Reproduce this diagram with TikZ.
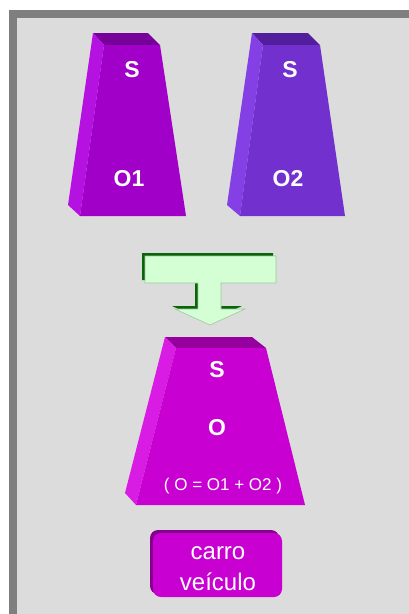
\documentclass[tikz,border=0pt]{standalone}
\usepackage{fontspec}
\setmainfont{Liberation Sans}

\definecolor{framegray}{HTML}{7F7F7F}
\definecolor{panelgray}{HTML}{DCDCDC}
\definecolor{redfront}{HTML}{A000C8}
\definecolor{redside}{HTML}{B512E2}
\definecolor{redtop}{HTML}{78009A}
\definecolor{bluefront}{HTML}{7230CF}
\definecolor{blueside}{HTML}{8440E4}
\definecolor{bluetop}{HTML}{521E9E}
\definecolor{mixfront}{HTML}{C800D2}
\definecolor{mixside}{HTML}{D81CE4}
\definecolor{mixtop}{HTML}{96009E}
\definecolor{tagedge}{HTML}{86008E}
\definecolor{arrowfill}{HTML}{D4FFD4}
\definecolor{arrowshade}{HTML}{0A640A}
\definecolor{arrowline}{HTML}{9CC89C}

\tikzset{
  letter/.style={text=white, font=\bfseries\fontsize{23}{26}\selectfont, inner sep=0pt},
  plain/.style={text=white, font=\fontsize{24}{28}\selectfont, inner sep=0pt},
  small/.style={text=white, font=\fontsize{17}{20}\selectfont, inner sep=0pt}
}

\begin{document}
\begin{tikzpicture}[x=1pt,y=-1pt]
  \useasboundingbox (0,0) rectangle (409,614);

  % Frame and panel
  \fill[white] (0,0) rectangle (409,614);
  \fill[framegray] (9,10) rectangle (409,614);
  \fill[panelgray] (17,18) rectangle (409,614);

  % Prism for O1
  \fill[redtop]   (93,33) -- (148,33) -- (160,45) -- (104,45) -- cycle;
  \fill[redside]  (93,33) -- (104,45) -- (80,216) -- (68,205) -- cycle;
  \fill[redfront] (104,45) -- (160,45) -- (186,216) -- (80,216) -- cycle;

  % Prism for O2
  \fill[bluetop]   (252,33) -- (308,33) -- (320,45) -- (263,45) -- cycle;
  \fill[blueside]  (252,33) -- (263,45) -- (240,216) -- (227,205) -- cycle;
  \fill[bluefront] (263,45) -- (320,45) -- (345,216) -- (240,216) -- cycle;

  % Labels on top prisms
  \node[letter] (s1) at (132,70) {S};
  \node[letter] (o1) at (129,179) {O1};
  \node[letter] (s2) at (290,70) {S};
  \node[letter] (o2) at (288,179) {O2};

  % Merge arrow
  \fill[arrowshade] (142,253) -- (273,253) -- (273,280) -- (218,280) -- (218,306)
    -- (242,306) -- (207,322) -- (172,306) -- (195,306) -- (195,280) -- (142,280) -- cycle;
  \filldraw[fill=arrowfill, draw=arrowline, line width=0.6pt]
    (145,256) -- (276,256) -- (276,283) -- (221,283) -- (221,309)
    -- (245,309) -- (210,325) -- (175,309) -- (198,309) -- (198,283) -- (145,283) -- cycle;

  % Merged prism
  \fill[mixtop]   (165,337) -- (252,337) -- (266,348) -- (176,348) -- cycle;
  \fill[mixside]  (165,337) -- (176,348) -- (136,505) -- (125,493) -- cycle;
  \fill[mixfront] (176,348) -- (266,348) -- (305,505) -- (136,505) -- cycle;

  \node[letter] (s) at (217,370) {S};
  \node[letter] (o) at (217,428) {O};
  \node[small]  (sum) at (223,486) {( O = O1 + O2 )};

  % Tag below
  \fill[tagedge, rounded corners=8pt] (150,530) rectangle (279,594);
  \fill[mixfront, rounded corners=8pt] (153,533) rectangle (282,597);
  \node[plain] (car) at (218,553) {carro};
  \node[plain] (veh) at (218,582) {veículo};
\end{tikzpicture}
\end{document}
